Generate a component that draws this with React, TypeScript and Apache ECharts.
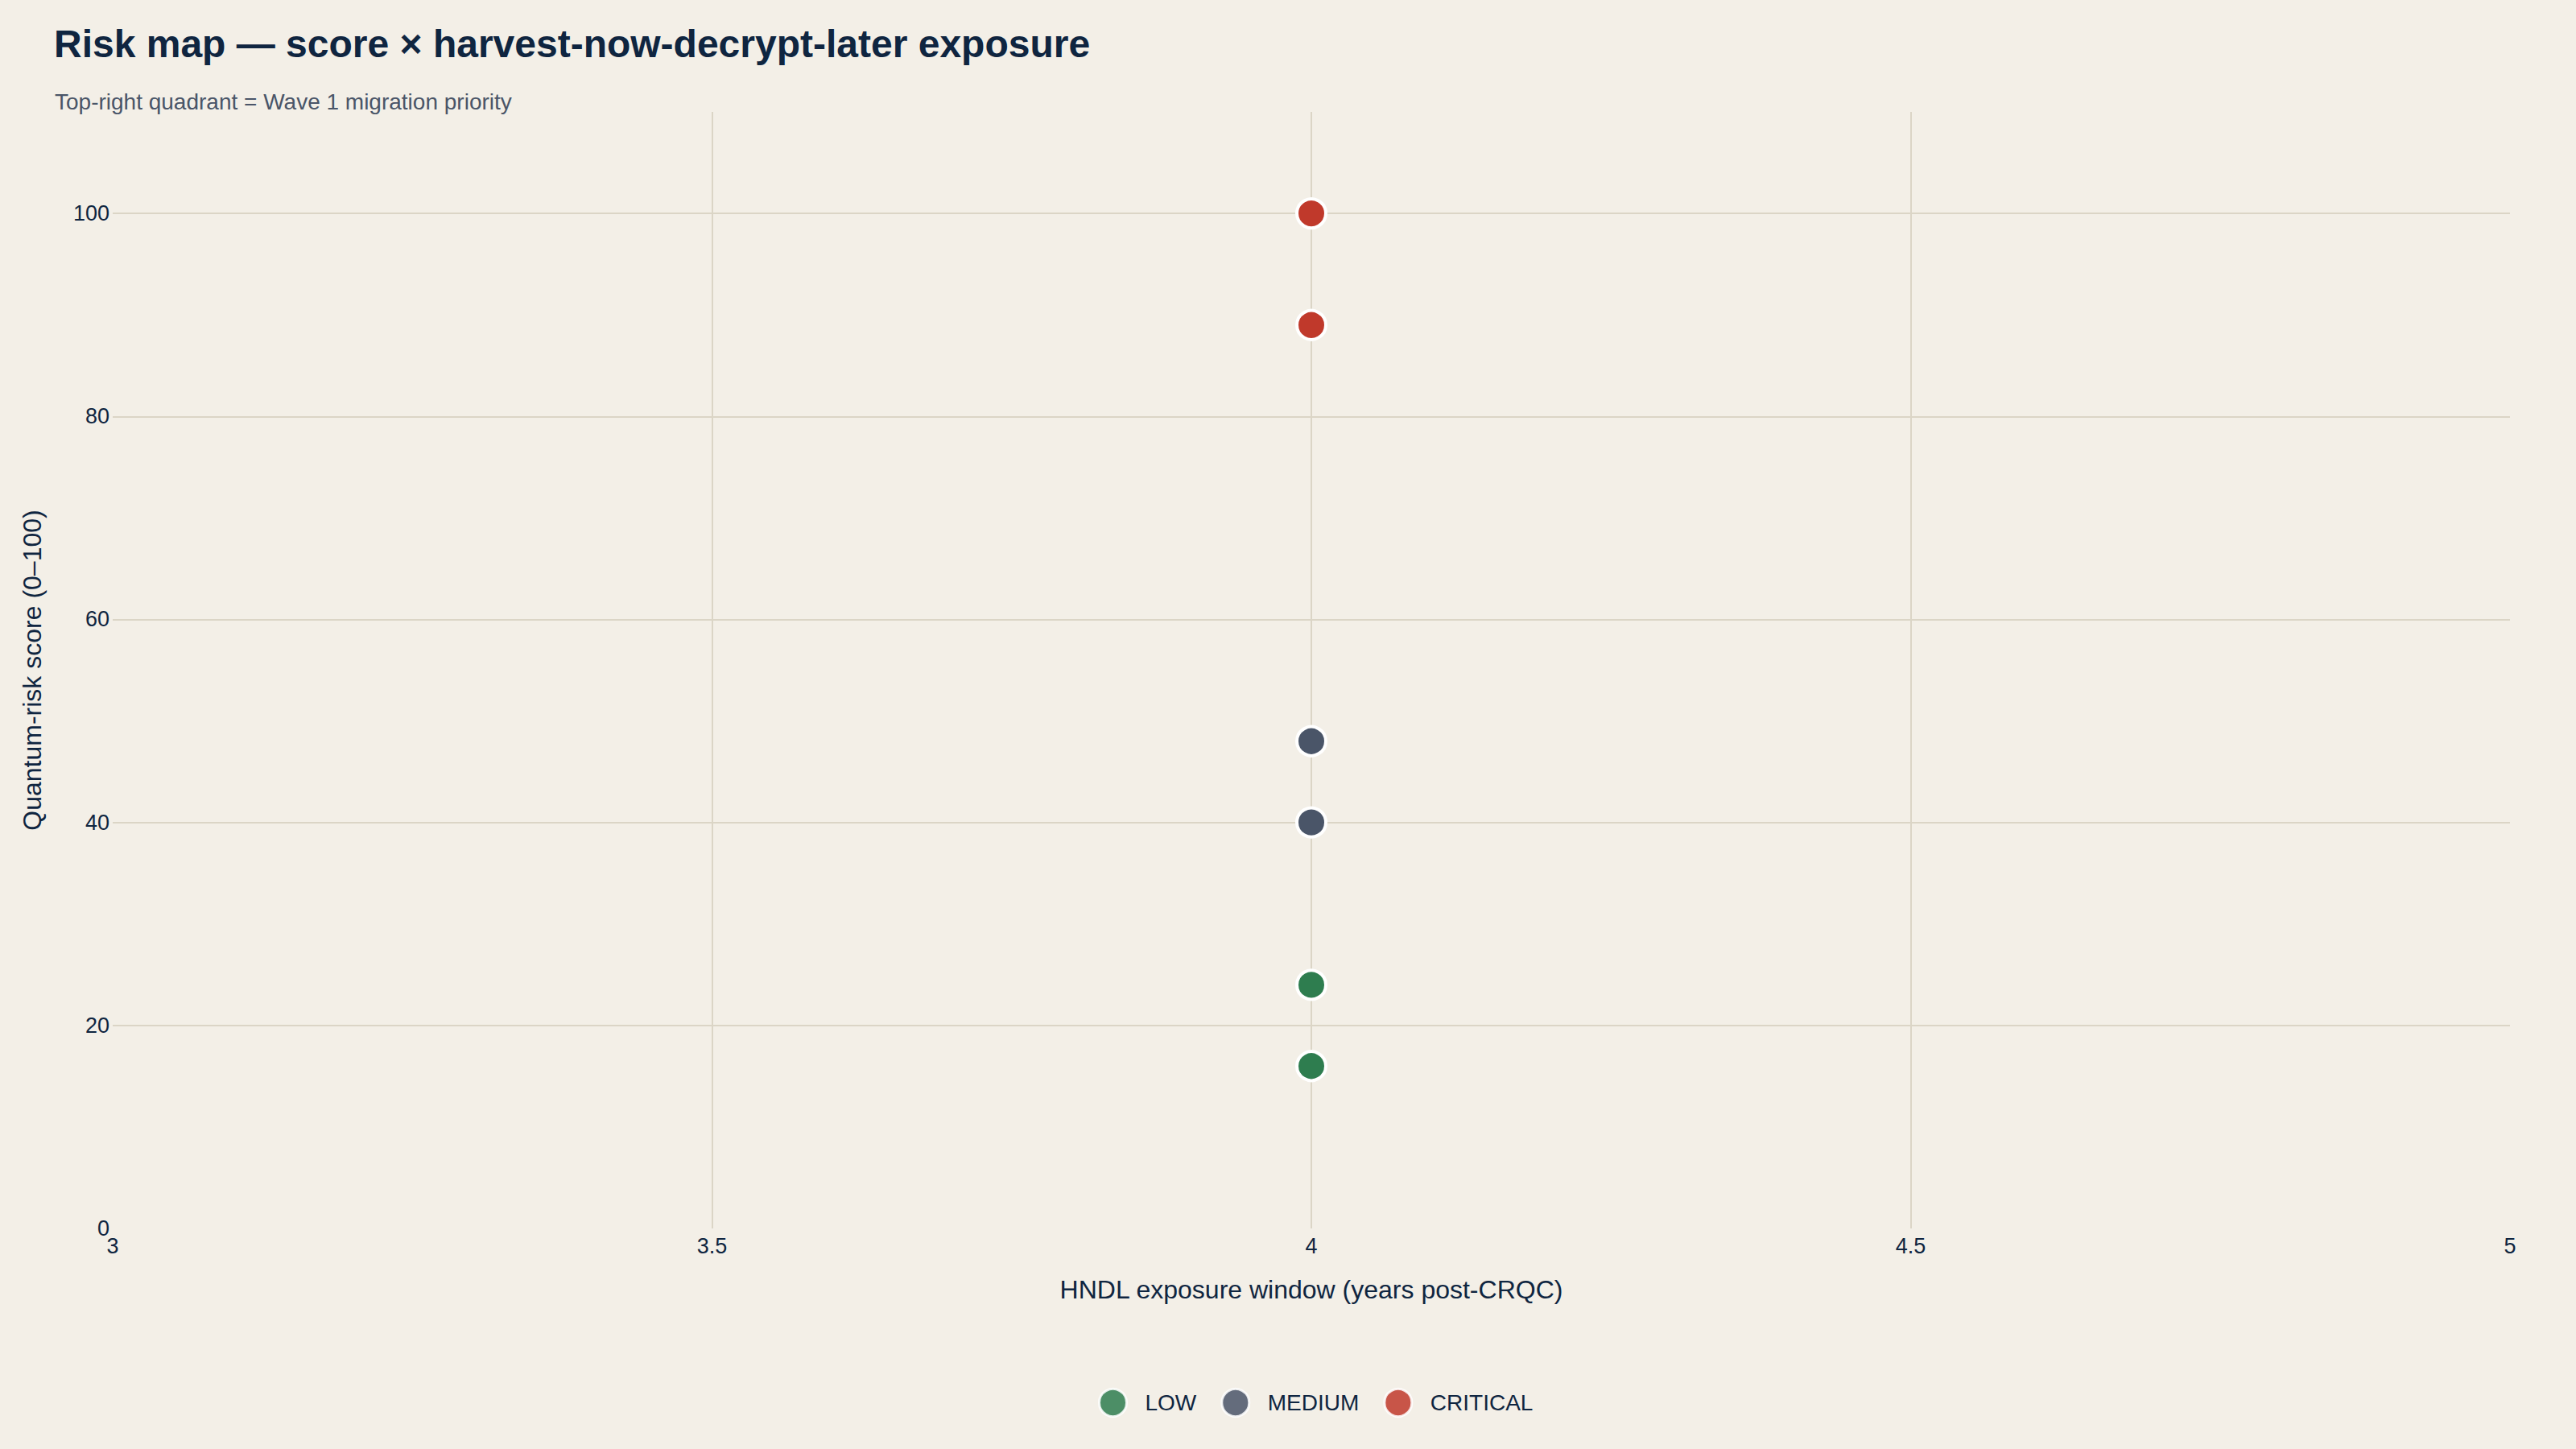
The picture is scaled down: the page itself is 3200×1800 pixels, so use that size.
import * as echarts from 'echarts';
import { useEffect, useRef } from 'react';

// risk tiers and their assets: [HNDL exposure years, quantum-risk score]
const tiers = ['LOW', 'MEDIUM', 'CRITICAL'];
const tierColors = ['#2e7d4f', '#4a5568', '#c0392b'];
const lowPoints = [
  [4, 16],
  [4, 24],
];
const mediumPoints = [
  [4, 40],
  [4, 48],
];
const criticalPoints = [
  [4, 89],
  [4, 100],
];
const tierPoints = [lowPoints, mediumPoints, criticalPoints];

const FONT = '"Liberation Sans", Arial, Helvetica, sans-serif';
const INK = '#0f2540';
const GRID = '#dbd5c6';

const App = () => {
  const chartRef = useRef(null);

  useEffect(() => {
    document.body.style.margin = '0';
    const chart = echarts.init(chartRef.current, null, { renderer: 'svg' });

    const option = {
      animation: false,
      backgroundColor: '#f3efe7',
      textStyle: { fontFamily: FONT, color: INK },
      title: [
        {
          text: 'Risk map — score × harvest-now-decrypt-later exposure',
          left: 62,
          top: 25,
          textStyle: { fontFamily: FONT, fontSize: 48, fontWeight: 'bold', color: INK },
        },
        {
          text: 'Top-right quadrant = Wave 1 migration priority',
          left: 63,
          top: 107,
          textStyle: { fontFamily: FONT, fontSize: 28, fontWeight: 'normal', color: '#4a5568' },
        },
      ],
      grid: { left: 140, right: 82, top: 139, bottom: 274, containLabel: false },
      xAxis: {
        type: 'value',
        min: 3,
        max: 5,
        interval: 0.5,
        name: 'HNDL exposure window (years post-CRQC)',
        nameLocation: 'middle',
        nameGap: 60,
        nameTextStyle: { fontFamily: FONT, fontSize: 32, color: INK },
        axisLine: { show: false },
        axisTick: { show: false },
        axisLabel: { fontFamily: FONT, fontSize: 27, color: INK, margin: 8 },
        splitLine: {
          show: true,
          showMinLine: false,
          showMaxLine: false,
          lineStyle: { color: GRID, width: 2 },
        },
      },
      yAxis: {
        type: 'value',
        min: 0,
        max: 110,
        interval: 20,
        name: 'Quantum-risk score (0–100)',
        nameLocation: 'middle',
        nameRotate: 90,
        nameGap: 84,
        nameTextStyle: { fontFamily: FONT, fontSize: 32, color: INK },
        axisLine: { show: false },
        axisTick: { show: false },
        axisLabel: { fontFamily: FONT, fontSize: 27, color: INK, margin: 4, showMaxLabel: false },
        splitLine: {
          show: true,
          showMinLine: false,
          showMaxLine: false,
          lineStyle: { color: GRID, width: 2 },
        },
      },
      legend: {
        bottom: 34,
        left: 1359,
        icon: 'circle',
        itemWidth: 34,
        itemHeight: 34,
        itemGap: 30,
        data: tiers,
        textStyle: { fontFamily: FONT, fontSize: 28, color: INK, padding: [0, 0, 0, 18] },
        itemStyle: { opacity: 0.85, borderColor: '#ffffff', borderWidth: 3 },
      },
      series: tiers.map((tier, i) => ({
        name: tier,
        type: 'scatter',
        data: tierPoints[i],
        symbol: 'circle',
        symbolSize: 36,
        itemStyle: { color: tierColors[i], borderColor: '#ffffff', borderWidth: 4, opacity: 1 },
      })),
    };

    chart.setOption(option);

    const handleResize = () => chart.resize();
    window.addEventListener('resize', handleResize);

    return () => {
      window.removeEventListener('resize', handleResize);
      chart.dispose();
    };
  }, []);

  return <div ref={chartRef} style={{ width: '100vw', height: '100vh' }} />;
};

export default App;
